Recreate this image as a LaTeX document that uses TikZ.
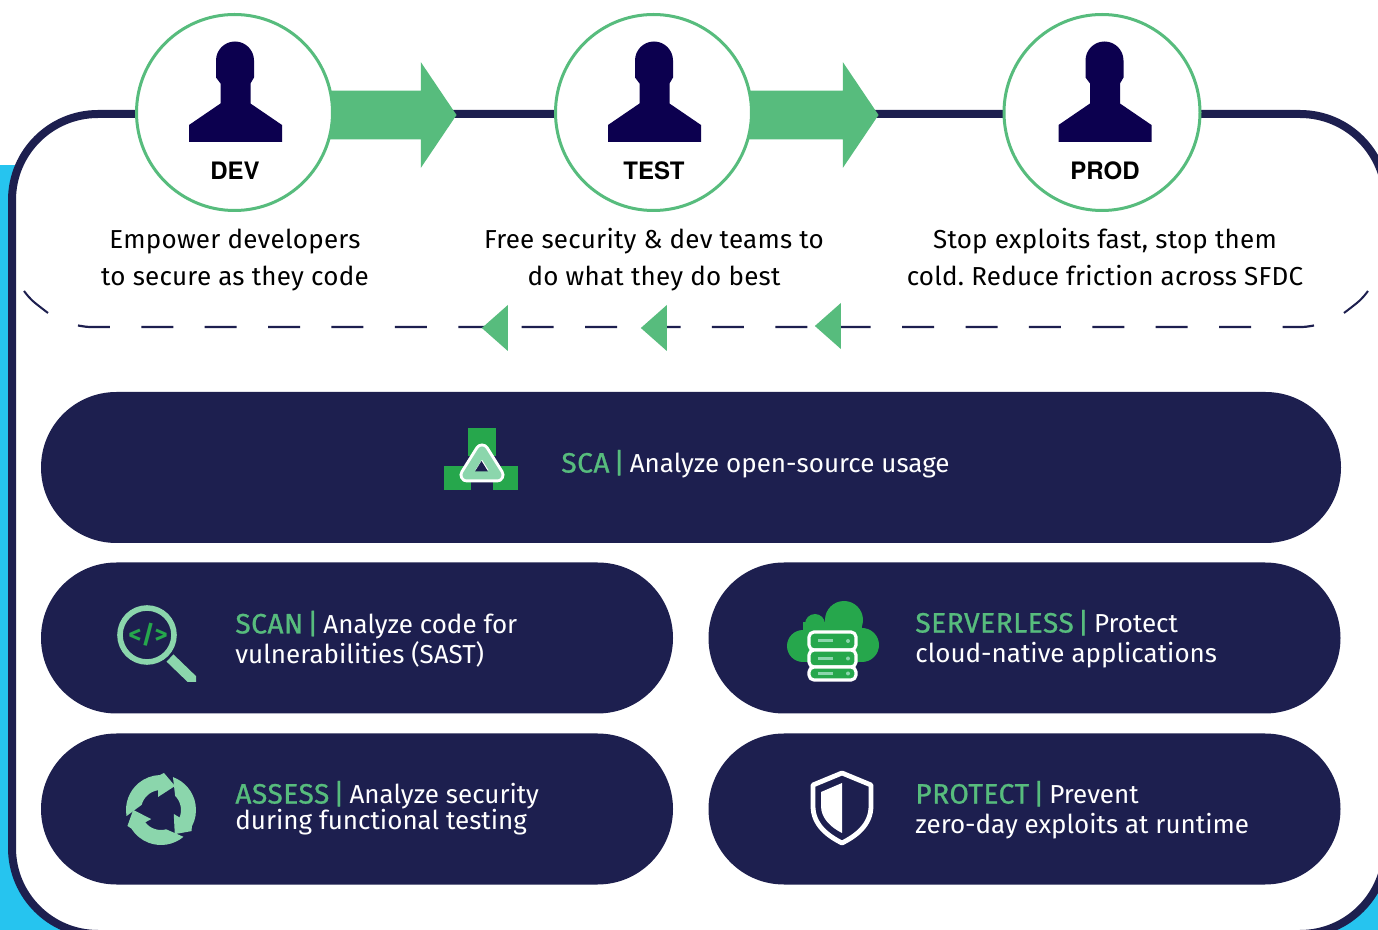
\documentclass[tikz,border=0pt]{standalone}
\usepackage{fontspec}
\setmainfont{Fira Sans}[LetterSpace=1.0]
\newfontfamily\pillfont{Fira Sans}
\newfontfamily\tagfont{Fira Sans}[FakeBold=1, LetterSpace=2]
\newfontfamily\labelfont{TeX Gyre Heros}
\usetikzlibrary{positioning,shapes.arrows,shapes.geometric,calc}
\definecolor{navy}{HTML}{1D1F4F}
\definecolor{ink}{HTML}{0C004F}
\definecolor{leaf}{HTML}{57BC7D}
\definecolor{mint}{HTML}{8BD6AC}
\definecolor{grass}{HTML}{26A74C}
\definecolor{sky}{HTML}{26C4EF}
\tikzset{
  stage/.style={circle, draw=leaf, line width=1.5pt, fill=white, minimum size=98pt, inner sep=0pt},
  stagename/.style={font=\labelfont\bfseries\fontsize{12}{13}\selectfont, text=black},
  blurb/.style={font=\frenchspacing\fontsize{13}{18.5}\selectfont, align=center, text=black},
  pill/.style={rounded corners=37.7pt, fill=navy, minimum height=75.5pt, inner sep=0pt},
  pilltext/.style={font=\pillfont\frenchspacing\fontsize{13}{15}\selectfont, align=left, text=white, anchor=west, inner sep=0pt},
  flow/.style={single arrow, fill=leaf, inner xsep=0pt, inner ysep=12pt, single arrow head extend=14.25pt, single arrow tip angle=112},
  backtip/.style={isosceles triangle, fill=leaf, shape border rotate=180, isosceles triangle stretches, minimum width=23pt, minimum height=13pt, inner sep=0pt},
}
\newcommand{\stagefigure}[1]{%
  \begin{scope}[shift={(#1)}]
    \fill[ink] (-45.5,29.5) -- (-45.5,12.5) -- (-14,-9) -- (-14,-29) -- (-18.5,-35) -- (-18.5,-52)
      arc[start angle=180, end angle=360, radius=19] -- (19.5,-35) -- (16,-29) -- (16,-9) -- (47.5,12.5) -- (47.5,29.5) -- cycle;
  \end{scope}}
\newcommand{\pilltag}[2]{\textcolor{leaf}{{\tagfont\fontsize{14}{15}\selectfont #1\hspace{2pt}|}}\hspace{2.5pt}#2}
\begin{document}
\begin{tikzpicture}[x=0.5pt, y=-0.5pt, line cap=butt, line join=round]
    \useasboundingbox (0,0) rectangle (1378,930);
    \begin{scope}
    \clip (0,0) rectangle (1378,930);
    % Backing and frame
    \fill[sky] (0,165) rectangle (1378,930);
    \draw[navy, line width=4pt, fill=white, rounded corners=43pt] (12,114) rectangle (1386,934);
    \end{scope}

    % Arrows between stages
    \coordinate (devtip) at (457,115);
    \coordinate (testtip) at (879,115);
    \node[flow, minimum height=70pt, anchor=tip] (devflow) at (devtip) {};
    \node[flow, minimum height=70pt, anchor=tip] (testflow) at (testtip) {};

    % Stages
    \node[stage] (dev) at (234.5,112.5) {};
    \node[stage] (test) at (653.5,112.5) {};
    \node[stage] (prod) at (1102,112.5) {};
    \stagefigure{dev}
    \stagefigure{test}
    \stagefigure{$(prod)+(2,0)$}
    \node[stagename] (devname) at (235,171) {DEV};
    \node[stagename] (testname) at (654,171) {TEST};
    \node[stagename] (prodname) at (1105,171) {PROD};

    \node[blurb] (devblurb) at (235,260) {Empower developers\\to secure as they code};
    \node[blurb] (testblurb) at (654,260) {Free security \& dev teams to\\do what they do best};
    \node[blurb] (prodblurb) at (1105,257) {Stop exploits fast, stop them\\cold. Reduce friction across SFDC};

    % Feedback line
    \coordinate (fbleft) at (24,291);
    \coordinate (fbright) at (1368,291);
    \draw[navy, line width=1.1pt, dash pattern=on 16pt off 15.7pt]
        (78,325.5) .. controls (87,327) .. (94,327) -- (1298,327) .. controls (1305,327) .. (1314,325.5);
    \draw[navy, line width=1pt] (fbleft) .. controls (31,300) .. (48,313);
    \draw[navy, line width=1pt] (fbright) .. controls (1361,300) .. (1344,313);
    \node[backtip] (backa) at (497.5,328) {};
    \node[backtip] (backb) at (656.5,328) {};
    \node[backtip] (backc) at (830.5,326) {};

    % Pills
    \node[pill, minimum width=650pt] (sca) at (691,467.5) {};
    \node[pill, minimum width=316pt] (scan) at (357,638) {};
    \node[pill, minimum width=316pt] (serverless) at (1024.5,638) {};
    \node[pill, minimum width=316pt] (assess) at (357,809) {};
    \node[pill, minimum width=316pt] (protect) at (1024.5,809) {};

    \node[pilltext] (scatext) at (561,464) {\pilltag{SCA}{Analyze open-source usage}};
    \node[pilltext] (scantext) at (235,639) {\pilltag{SCAN}{Analyze code for}\\vulnerabilities (SAST)};
    \node[pilltext] (serverlesstext) at (915,639) {\pilltag{SERVERLESS}{Protect}\\cloud-native applications};
    \node[pilltext, font=\pillfont\fontsize{13}{13}\selectfont] (assesstext) at (235,808) {\pilltag{ASSESS}{Analyze security}\\during functional testing};
    \node[pilltext] (protecttext) at (915,810) {\pilltag{PROTECT}{Prevent}\\zero-day exploits at runtime};

    % SCA icon
    \fill[grass] (468,428) rectangle (496,456);
    \fill[grass] (444,466) rectangle (471,490);
    \fill[grass] (493,466) rectangle (518,490);
    \draw[white, line width=7.5pt] (482,451) -- (497,475) -- (467,475) -- cycle;
    \draw[mint, line width=4.5pt] (482,451) -- (497,475) -- (467,475) -- cycle;
    \fill[navy] (481.5,461) -- (488,471.5) -- (475,471.5) -- cycle;

    % Scan icon
    \begin{scope}
    \clip (100,590) rectangle (196,682);
    \draw[mint, line width=2.8pt] (147,635) circle (27);
    \draw[mint, line width=5pt] (170,658) -- (198,685);
    \end{scope}
    \node[text=grass, font=\pillfont\bfseries\fontsize{12.5}{13}\selectfont, inner sep=0pt] (scanglyph) at (148,635) {</>};

    % Serverless icon
    \fill[grass] (844,620) circle (19);
    \fill[grass] (815,624) circle (10);
    \fill[grass] (803,646) circle (16);
    \fill[grass] (862,645) circle (17);
    \fill[grass] (803,622) rectangle (862,662);
    \foreach \ytop/\ybot in {632/650,650/667,667/680} {
        \draw[white, line width=1.6pt, fill=grass, rounded corners=2.5pt] (809,\ytop) rectangle (856,\ybot);
        \draw[mint, line width=1.5pt] (818,{(\ytop+\ybot)/2}) -- (833,{(\ytop+\ybot)/2});
        \fill[mint] (848,{(\ytop+\ybot)/2}) circle (2);
    }

    % Assess icon
    \begin{scope}
    \clip (110,765) rectangle (197,846);
    \foreach \turn in {0,120,240} {
        \fill[mint, shift={(161,810)}, rotate=\turn] (170:35) arc[start angle=170, end angle=268, radius=35]
            -- (3,-37) -- (14,-24) -- (-3,-13) -- (262:20) arc[start angle=262, end angle=195, radius=20] -- cycle;
    }
    \end{scope}

    % Protect icon
    \draw[white, line width=2.4pt] (842,773) -- (813,785) -- (813,806) .. controls (813,825) and (828,836) .. (842,843)
        .. controls (856,836) and (871,825) .. (871,806) -- (871,785) -- cycle;
    \fill[white] (842,783) -- (821,792) -- (821,806) .. controls (821,819) and (832,828) .. (842,833) -- cycle;
\end{tikzpicture}
\end{document}
